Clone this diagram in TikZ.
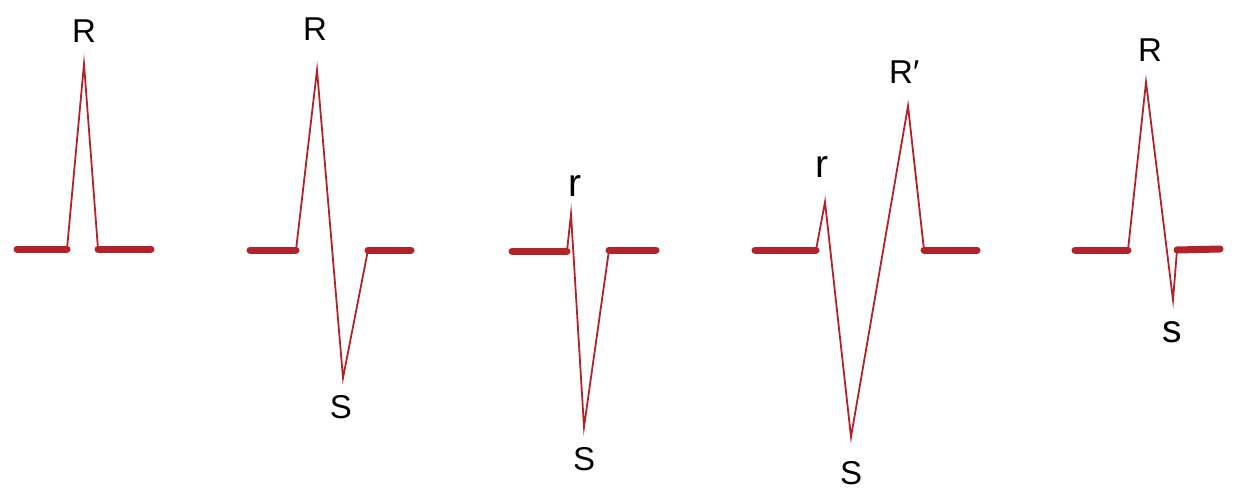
\documentclass[tikz,border=0pt]{standalone}
\usepackage{fontspec}
\setmainfont{Liberation Sans}
\definecolor{ecg}{RGB}{178,34,40}
\begin{document}
\begin{tikzpicture}[x=1pt,y=-1pt,
  baseline seg/.style={draw=ecg,line width=7pt,line cap=round},
  spike/.style={draw=ecg,line width=1.8pt,line join=miter,miter limit=20},
  biglabel/.style={anchor=base,inner sep=0pt,text=black,font=\fontsize{33}{33}\selectfont},
  lowlabel/.style={anchor=base,inner sep=0pt,text=black,font=\fontsize{39}{39}\selectfont}]
\useasboundingbox (0,0) rectangle (1234,489);
% wave 1
\coordinate (a1) at (17,249); \coordinate (a2) at (67,249);
\coordinate (a3) at (84,64); \coordinate (a4) at (98,249); \coordinate (a5) at (151,249);
\draw[baseline seg] (a1) -- (a2); \draw[baseline seg] (a4) -- (a5);
\draw[spike] (a2) -- (a3) -- (a4);
\node[biglabel] (l1) at (84,43) {R};
% wave 2
\coordinate (b1) at (250,250); \coordinate (b2) at (296,250);
\coordinate (b3) at (317,70); \coordinate (b4) at (343,378);
\coordinate (b5) at (368,250); \coordinate (b6) at (411,250);
\draw[baseline seg] (b1) -- (b2); \draw[baseline seg] (b5) -- (b6);
\draw[spike] (b2) -- (b3) -- (b4) -- (b5);
\node[biglabel] (l2) at (315,41) {R};
\node[biglabel] (l3) at (341,418) {S};
% wave 3
\coordinate (c1) at (512,251); \coordinate (c2) at (567,251);
\coordinate (c3) at (571,214); \coordinate (c4) at (584,427);
\coordinate (c5) at (609,250); \coordinate (c6) at (656,250);
\draw[baseline seg] (c1) -- (c2); \draw[baseline seg] (c5) -- (c6);
\draw[spike] (c2) -- (c3) -- (c4) -- (c5);
\node[lowlabel] (l4) at (575,197) {r};
\node[biglabel] (l5) at (584,470) {S};
% wave 4
\coordinate (d1) at (755,250); \coordinate (d2) at (816,250);
\coordinate (d3) at (825,202); \coordinate (d4) at (851,437);
\coordinate (d5) at (908,106); \coordinate (d6) at (924,250); \coordinate (d7) at (977,250);
\draw[baseline seg] (d1) -- (d2); \draw[baseline seg] (d6) -- (d7);
\draw[spike] (d2) -- (d3) -- (d4) -- (d5) -- (d6);
\node[lowlabel] (l6) at (822,178) {r};
\node[biglabel,anchor=base west] (l7) at (889,84) {R′};
\node[biglabel] (l8) at (851,484) {S};
% wave 5
\coordinate (e1) at (1075,250); \coordinate (e2) at (1128,250);
\coordinate (e3) at (1146,82); \coordinate (e4) at (1173,300);
\coordinate (e5) at (1177,250); \coordinate (e6) at (1220,249);
\draw[baseline seg] (e1) -- (e2); \draw[baseline seg] (e5) -- (e6);
\draw[spike] (e2) -- (e3) -- (e4) -- (e5);
\node[biglabel] (l9) at (1150,62) {R};
\node[lowlabel] (l10) at (1172,342) {s};
\end{tikzpicture}
\end{document}
